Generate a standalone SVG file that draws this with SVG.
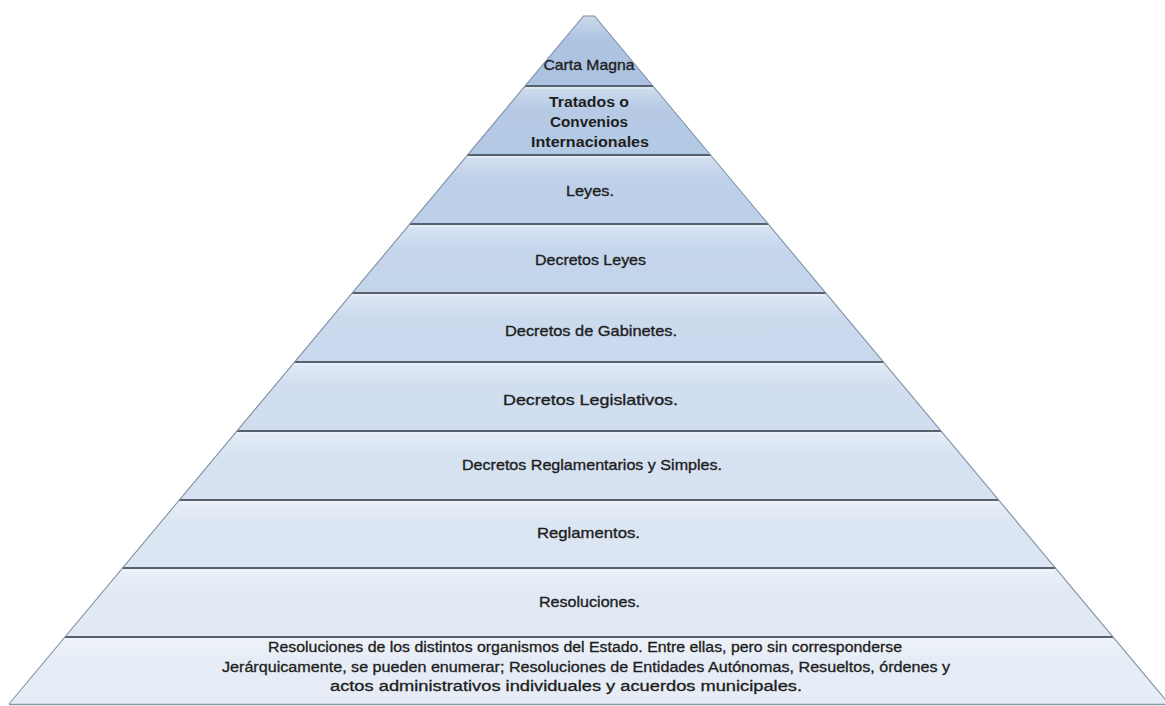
<svg xmlns="http://www.w3.org/2000/svg" width="1165" height="706" viewBox="0 0 1165 706">
<defs>
<linearGradient id="g" gradientUnits="userSpaceOnUse" x1="0" y1="16" x2="0" y2="704">
<stop offset="0" stop-color="#a2bbdc"/>
<stop offset="0.3" stop-color="#bdd0e9"/>
<stop offset="0.65" stop-color="#d3e0f0"/>
<stop offset="1" stop-color="#e7edf6"/>
</linearGradient>
<linearGradient id="hl" x1="0" y1="0" x2="0" y2="1">
<stop offset="0" stop-color="#ffffff" stop-opacity="0.45"/>
<stop offset="0.35" stop-color="#ffffff" stop-opacity="0.1"/>
<stop offset="1" stop-color="#ffffff" stop-opacity="0"/>
</linearGradient>
<style>
.band{fill:url(#g);}
.hl{fill:url(#hl);}
.t{font-family:"Liberation Sans",Arial,sans-serif;font-size:15px;fill:#1e1e1e;stroke:#1e1e1e;stroke-width:0.35;text-anchor:middle;}
.tb{font-family:"Liberation Sans",Arial,sans-serif;font-size:14px;font-weight:bold;fill:#1e1e1e;text-anchor:middle;}
.ts{font-family:"Liberation Sans",Arial,sans-serif;font-size:14px;fill:#1e1e1e;stroke:#1e1e1e;stroke-width:0.3;}
.sep{stroke:#56616d;stroke-width:2.2;fill:none;}
.sepl{stroke:#f3f6fa;stroke-width:1;fill:none;opacity:0.85;}
.edge{stroke:#7f90a4;stroke-width:1.1;fill:none;}
</style>
</defs>
<rect width="1165" height="706" fill="#ffffff"/>

<g id="band-carta-magna">
<polygon class="band" points="583.5,16 594.5,16 653,86 525,86"/>
<polygon class="hl" points="583.5,16 594.5,16 653,86 525,86"/>
<text class="t" x="589" y="70" textLength="91" lengthAdjust="spacingAndGlyphs">Carta Magna</text>
</g>

<g id="band-tratados">
<polygon class="band" points="525,86 653,86 710.6,155 467.4,155"/>
<polygon class="hl" points="525,86 653,86 710.6,155 467.4,155"/>
<text class="tb" x="589" y="107" textLength="80" lengthAdjust="spacingAndGlyphs">Tratados o</text>
<text class="tb" x="589" y="127" textLength="78" lengthAdjust="spacingAndGlyphs">Convenios</text>
<text class="tb" x="590" y="147" textLength="118" lengthAdjust="spacingAndGlyphs">Internacionales</text>
</g>

<g id="band-leyes">
<polygon class="band" points="467.4,155 710.6,155 768.2,224 409.8,224"/>
<polygon class="hl" points="467.4,155 710.6,155 768.2,224 409.8,224"/>
<text class="t" x="590" y="196" textLength="48" lengthAdjust="spacingAndGlyphs">Leyes.</text>
</g>

<g id="band-decretos-leyes">
<polygon class="band" points="409.8,224 768.2,224 825.8,293 352.2,293"/>
<polygon class="hl" points="409.8,224 768.2,224 825.8,293 352.2,293"/>
<text class="t" x="590.5" y="265" textLength="111" lengthAdjust="spacingAndGlyphs">Decretos Leyes</text>
</g>

<g id="band-decretos-gabinetes">
<polygon class="band" points="352.2,293 825.8,293 883.5,362 294.5,362"/>
<polygon class="hl" points="352.2,293 825.8,293 883.5,362 294.5,362"/>
<text class="t" x="591" y="336" textLength="172" lengthAdjust="spacingAndGlyphs">Decretos de Gabinetes.</text>
</g>

<g id="band-decretos-legislativos">
<polygon class="band" points="294.5,362 883.5,362 941.1,431 236.9,431"/>
<polygon class="hl" points="294.5,362 883.5,362 941.1,431 236.9,431"/>
<text class="t" x="590.5" y="405" textLength="175" lengthAdjust="spacingAndGlyphs">Decretos Legislativos.</text>
</g>

<g id="band-decretos-reglamentarios">
<polygon class="band" points="236.9,431 941.1,431 998.7,500 179.3,500"/>
<polygon class="hl" points="236.9,431 941.1,431 998.7,500 179.3,500"/>
<text class="t" x="592" y="470" textLength="260" lengthAdjust="spacingAndGlyphs">Decretos Reglamentarios y Simples.</text>
</g>

<g id="band-reglamentos">
<polygon class="band" points="179.3,500 998.7,500 1055.5,568 122.5,568"/>
<polygon class="hl" points="179.3,500 998.7,500 1055.5,568 122.5,568"/>
<text class="t" x="588.5" y="538" textLength="103" lengthAdjust="spacingAndGlyphs">Reglamentos.</text>
</g>

<g id="band-resoluciones">
<polygon class="band" points="122.5,568 1055.5,568 1113.1,637 64.9,637"/>
<polygon class="hl" points="122.5,568 1055.5,568 1113.1,637 64.9,637"/>
<text class="t" x="589.5" y="607" textLength="101" lengthAdjust="spacingAndGlyphs">Resoluciones.</text>
</g>

<g id="band-resoluciones-organismos">
<polygon class="band" points="64.9,637 1113.1,637 1169,704 9,704"/>
<polygon class="hl" points="64.9,637 1113.1,637 1169,704 9,704"/>
<text class="ts" x="268" y="652" textLength="634" lengthAdjust="spacingAndGlyphs">Resoluciones de los distintos organismos del Estado. Entre ellas, pero sin corresponderse</text>
<text class="ts" x="222" y="672" textLength="728" lengthAdjust="spacingAndGlyphs">Jerárquicamente, se pueden enumerar; Resoluciones de Entidades Autónomas, Resueltos, órdenes y</text>
<text class="ts" x="330" y="691" textLength="472" lengthAdjust="spacingAndGlyphs">actos administrativos individuales y acuerdos municipales.</text>
</g>

<g id="connectors">
<line class="sep" x1="525" y1="86" x2="653" y2="86"/>
<line class="sep" x1="467.4" y1="155" x2="710.6" y2="155"/>
<line class="sep" x1="409.8" y1="224" x2="768.2" y2="224"/>
<line class="sep" x1="352.2" y1="293" x2="825.8" y2="293"/>
<line class="sep" x1="294.5" y1="362" x2="883.5" y2="362"/>
<line class="sep" x1="236.9" y1="431" x2="941.1" y2="431"/>
<line class="sep" x1="179.3" y1="500" x2="998.7" y2="500"/>
<line class="sep" x1="122.5" y1="568" x2="1055.5" y2="568"/>
<line class="sep" x1="64.9" y1="637" x2="1113.1" y2="637"/>
<line class="sepl" x1="525" y1="88" x2="653" y2="88"/>
<line class="sepl" x1="467.4" y1="157" x2="710.6" y2="157"/>
<line class="sepl" x1="409.8" y1="226" x2="768.2" y2="226"/>
<line class="sepl" x1="352.2" y1="295" x2="825.8" y2="295"/>
<line class="sepl" x1="294.5" y1="364" x2="883.5" y2="364"/>
<line class="sepl" x1="236.9" y1="433" x2="941.1" y2="433"/>
<line class="sepl" x1="179.3" y1="502" x2="998.7" y2="502"/>
<line class="sepl" x1="122.5" y1="570" x2="1055.5" y2="570"/>
<line class="sepl" x1="64.9" y1="639" x2="1113.1" y2="639"/>
<polyline class="edge" points="9,704 583.5,16 594.5,16 1169,704"/>
<line x1="9" y1="704.5" x2="1165" y2="704.5" stroke="#8a96a3" stroke-width="1.5"/>
</g>
</svg>
